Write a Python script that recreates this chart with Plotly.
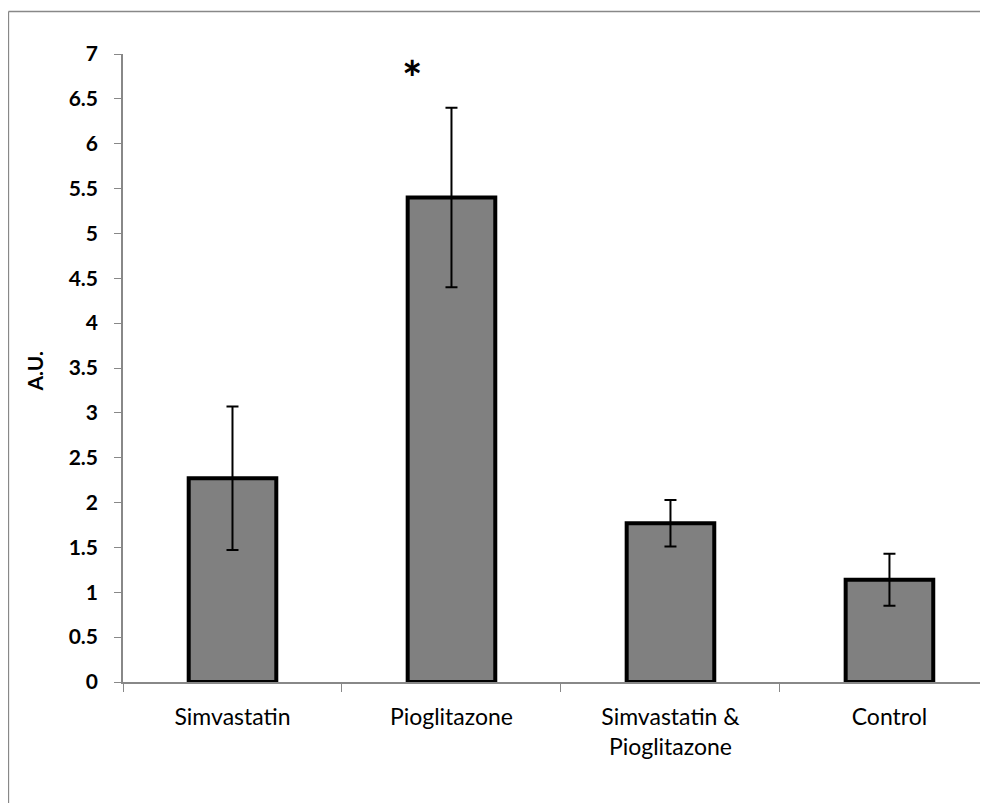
import plotly.graph_objects as go

categories = ["Simvastatin", "Pioglitazone", "Simvastatin &<br>Pioglitazone", "Control"]
values = [2.27, 5.40, 1.77, 1.14]
errors = [0.80, 1.00, 0.26, 0.29]
y_tick_vals = [0, 0.5, 1, 1.5, 2, 2.5, 3, 3.5, 4, 4.5, 5, 5.5, 6, 6.5, 7]
y_tick_text = ["0", "0.5", "1", "1.5", "2", "2.5", "3", "3.5", "4", "4.5", "5", "5.5", "6", "6.5", "7"]
star_category_index = 1
y_title = "A.U."

FONT = "Lato"
GRAY = "#888888"

# the page body has an 8px default margin, so figure coords = page coords - 8
OFF = 8
W, H = 988 - OFF, 803 - OFF
L, R, T, B = 123 - OFF, 0, 54 - OFF, H - (682 - OFF)
pw, ph = W - L - R, H - T - B


def px_x(p):
    return (p - OFF - L) / pw


def px_y(p):
    return (H - B - (p - OFF)) / ph


fig = go.Figure()
fig.add_trace(go.Bar(
    x=categories,
    y=values,
    width=0.4,
    marker=dict(color="#808080", line=dict(color="black", width=4)),
    error_y=dict(type="data", array=errors, visible=True, color="black", thickness=2, width=6),
    showlegend=False,
))

fig.update_layout(
    width=W, height=H,
    margin=dict(l=L, r=R, t=T, b=B, pad=0),
    plot_bgcolor="white", paper_bgcolor="white",
    font=dict(family=FONT, color="black"),
    xaxis=dict(
        type="category",
        range=[-0.5, 3.45],
        tickson="boundaries",
        ticks="outside", ticklen=8, tickcolor=GRAY, tickwidth=1.3,
        showline=True, linecolor=GRAY, linewidth=1.5,
        showgrid=False, zeroline=False,
        tickfont=dict(family=FONT, size=23, color="black"),
        ticklabelstandoff=14,
    ),
    yaxis=dict(
        range=[0, 7],
        tickvals=y_tick_vals, ticktext=y_tick_text,
        ticks="outside", ticklen=7, tickcolor=GRAY, tickwidth=1.3,
        showline=True, linecolor=GRAY, linewidth=1.5,
        showgrid=False, zeroline=False,
        tickfont=dict(family=FONT, size=21, color="black", weight="bold"),
        ticklabelstandoff=12,
    ),
    shapes=[
        dict(type="line", xref="paper", yref="paper", x0=px_x(8.5), x1=1.05, y0=px_y(11.5), y1=px_y(11.5),
             line=dict(color=GRAY, width=1.3)),
        dict(type="line", xref="paper", yref="paper", x0=px_x(8.5), x1=px_x(8.5), y0=px_y(11.5), y1=-0.3,
             line=dict(color=GRAY, width=1.3)),
    ],
    annotations=[
        dict(text="<b>" + y_title + "</b>", xref="paper", yref="paper", x=px_x(19), y=px_y(372),
             textangle=-90, showarrow=False, font=dict(family=FONT, size=21, color="black")),
        dict(text="<b>*</b>", xref="x", yref="y", x=star_category_index - 0.18,
             y=values[star_category_index] + errors[star_category_index] + 0.34,
             showarrow=False, font=dict(family=FONT, size=48, color="black")),
    ],
)

fig.write_html("out.html")
